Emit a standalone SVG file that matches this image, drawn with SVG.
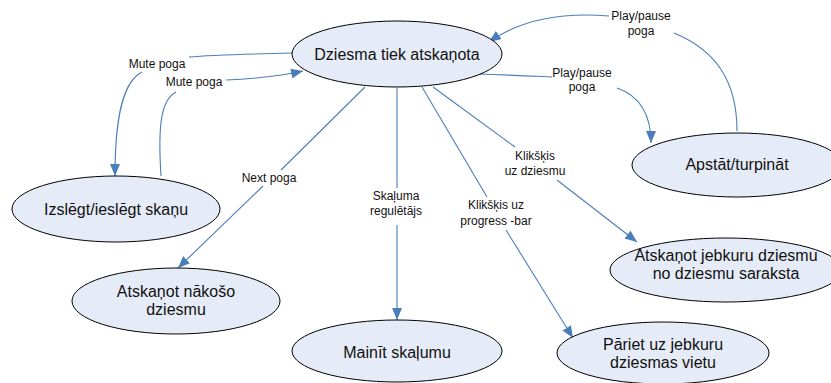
<svg xmlns="http://www.w3.org/2000/svg" width="831" height="383" viewBox="0 0 831 383">
  <defs>
    <marker id="arrow" viewBox="0 0 12 10" refX="12" refY="5" markerUnits="userSpaceOnUse" markerWidth="12" markerHeight="10" orient="auto">
      <path d="M0,0 L12,5 L0,10 z" fill="#4a7ebb"/>
    </marker>
    <style>
      .node ellipse { fill: #e6ecf7; stroke: #000; stroke-width: 1; }
      .node text { font-family: "Liberation Sans", Arial, sans-serif; font-size: 16px; fill: #111; text-anchor: middle; }
      .edge { fill: none; stroke: #4a7ebb; stroke-width: 1.1; }
      .lbl { font-family: "Liberation Sans", Arial, sans-serif; font-size: 12px; fill: #111; text-anchor: middle; }
    </style>
  </defs>
  <rect width="831" height="383" fill="#fff"/>

  <!-- connectors -->
  <g id="connectors">
    <!-- Mute poga: playing -> mute -->
    <path class="edge" d="M292,53 C250,54 212,55 189,57"/>
    <path class="edge" d="M142,72 C122,82 115,120 115,176" marker-end="url(#arrow)"/>
    <text class="lbl" x="157" y="68">Mute poga</text>
    <!-- Mute poga: mute -> playing -->
    <path class="edge" d="M161,176 C158,130 160,100 176,92"/>
    <path class="edge" d="M226,80 C250,79 280,76 303,71" marker-end="url(#arrow)"/>
    <text class="lbl" x="194" y="86">Mute poga</text>
    <!-- Next poga -->
    <path class="edge" d="M365,87 L281,170"/>
    <path class="edge" d="M263,186 L178,268" marker-end="url(#arrow)"/>
    <text class="lbl" x="269" y="182">Next poga</text>
    <!-- Volume slider -->
    <path class="edge" d="M397,88 L397,188"/>
    <path class="edge" d="M397,225 L397,320" marker-end="url(#arrow)"/>
    <text class="lbl" x="396" y="200">Skaļuma</text>
    <text class="lbl" x="396" y="215">regulētājs</text>
    <!-- Click on progress bar -->
    <path class="edge" d="M422,87 L487,197"/>
    <path class="edge" d="M506,230 L573,338" marker-end="url(#arrow)"/>
    <text class="lbl" x="496" y="209">Klikšķis uz</text>
    <text class="lbl" x="496" y="225">progress -bar</text>
    <!-- Click on song -->
    <path class="edge" d="M433,87 L515,147"/>
    <path class="edge" d="M557,180 L637,242" marker-end="url(#arrow)"/>
    <text class="lbl" x="535" y="160">Klikšķis</text>
    <text class="lbl" x="535" y="175">uz dziesmu</text>
    <!-- Play/pause: playing -> paused -->
    <path class="edge" d="M478,74 C510,75 530,76 552,77"/>
    <path class="edge" d="M617,88 C640,96 651,115 651,143" marker-end="url(#arrow)"/>
    <text class="lbl" x="582" y="77">Play/pause</text>
    <text class="lbl" x="582" y="91">poga</text>
    <!-- Play/pause: paused -> playing -->
    <path class="edge" d="M737,131 C737,80 715,50 674,33"/>
    <path class="edge" d="M609,16 C560,12 520,20 489,42" marker-end="url(#arrow)"/>
    <text class="lbl" x="641" y="20">Play/pause</text>
    <text class="lbl" x="641" y="35">poga</text>
  </g>

  <!-- nodes -->
  <g id="playing" class="node">
    <ellipse cx="397" cy="54" rx="105" ry="33"/>
    <text x="397" y="60">Dziesma tiek atskaņota</text>
  </g>
  <g id="mute" class="node">
    <ellipse cx="116" cy="209" rx="104" ry="33"/>
    <text x="116" y="215">Izslēgt/ieslēgt skaņu</text>
  </g>
  <g id="next" class="node">
    <ellipse cx="176" cy="301" rx="104" ry="33"/>
    <text x="176" y="297">Atskaņot nākošo</text>
    <text x="176" y="315">dziesmu</text>
  </g>
  <g id="volume" class="node">
    <ellipse cx="397" cy="351" rx="105" ry="31"/>
    <text x="397" y="358">Mainīt skaļumu</text>
  </g>
  <g id="seek" class="node">
    <ellipse cx="663" cy="353" rx="106" ry="31"/>
    <text x="663" y="350">Pāriet uz jebkuru</text>
    <text x="663" y="368">dziesmas vietu</text>
  </g>
  <g id="pick" class="node">
    <ellipse cx="726" cy="270" rx="116" ry="32"/>
    <text x="726" y="261">Atskaņot jebkuru dziesmu</text>
    <text x="726" y="279">no dziesmu saraksta</text>
  </g>
  <g id="pause" class="node">
    <ellipse cx="737" cy="165" rx="105" ry="32"/>
    <text x="737" y="170">Apstāt/turpināt</text>
  </g>
</svg>
